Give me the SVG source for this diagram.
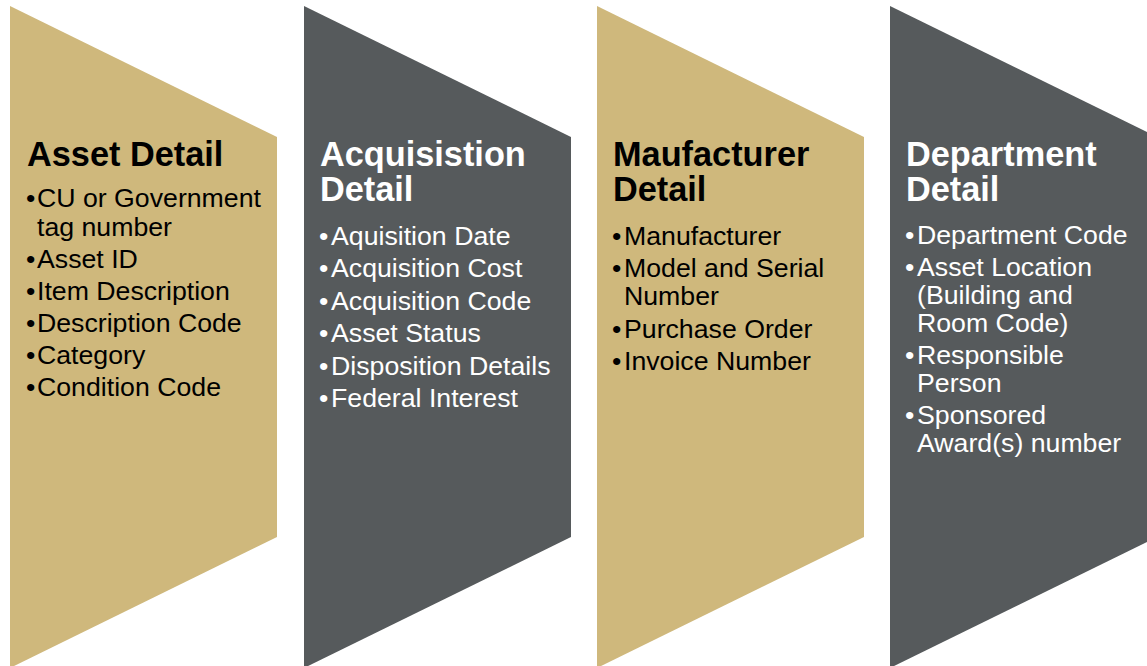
<svg xmlns="http://www.w3.org/2000/svg" width="1147" height="666" viewBox="0 0 1147 666">
<style>
.gold{fill:#CFB87C}
.gray{fill:#565A5C}
text{font-family:"Liberation Sans",Arial,sans-serif}
.h{font-size:34.3px;font-weight:bold}
.b{font-size:26.7px}
.dk{fill:#000}
.lt{fill:#fff}
</style>
<rect width="1147" height="666" fill="#fff"/>
<g id="node-asset">
<polygon class="gold" points="10,6 277,137 277,537 10,668"/>
<g class="dk">
<text class="h" x="27" y="166">Asset Detail</text>
<text class="b" x="26" y="207">•</text><text class="b" x="37" y="207">CU or Government</text>
<text class="b" x="37" y="236">tag number</text>
<text class="b" x="26" y="268">•</text><text class="b" x="37" y="268">Asset ID</text>
<text class="b" x="26" y="300">•</text><text class="b" x="37" y="300">Item Description</text>
<text class="b" x="26" y="332">•</text><text class="b" x="37" y="332">Description Code</text>
<text class="b" x="26" y="364">•</text><text class="b" x="37" y="364">Category</text>
<text class="b" x="26" y="396">•</text><text class="b" x="37" y="396">Condition Code</text>
</g>
</g>
<g id="node-acquisition">
<polygon class="gray" points="304,6 571,137 571,537 304,668"/>
<g class="lt">
<text class="h" x="320" y="166">Acquisistion</text>
<text class="h" x="320" y="201">Detail</text>
<text class="b" x="319" y="245">•</text><text class="b" x="331" y="245">Aquisition Date</text>
<text class="b" x="319" y="277">•</text><text class="b" x="331" y="277">Acquisition Cost</text>
<text class="b" x="319" y="310">•</text><text class="b" x="331" y="310">Acquisition Code</text>
<text class="b" x="319" y="342">•</text><text class="b" x="331" y="342">Asset Status</text>
<text class="b" x="319" y="375">•</text><text class="b" x="331" y="375">Disposition Details</text>
<text class="b" x="319" y="407">•</text><text class="b" x="331" y="407">Federal Interest</text>
</g>
</g>
<g id="node-manufacturer">
<polygon class="gold" points="597,6 864,137 864,537 597,668"/>
<g class="dk">
<text class="h" x="613" y="166">Maufacturer</text>
<text class="h" x="613" y="201">Detail</text>
<text class="b" x="612" y="245">•</text><text class="b" x="624" y="245">Manufacturer</text>
<text class="b" x="612" y="277">•</text><text class="b" x="624" y="277">Model and Serial</text>
<text class="b" x="624" y="305">Number</text>
<text class="b" x="612" y="338">•</text><text class="b" x="624" y="338">Purchase Order</text>
<text class="b" x="612" y="370">•</text><text class="b" x="624" y="370">Invoice Number</text>
</g>
</g>
<g id="node-department">
<polygon class="gray" points="890,6 1157,137 1157,537 890,668"/>
<g class="lt">
<text class="h" x="906" y="166">Department</text>
<text class="h" x="906" y="201">Detail</text>
<text class="b" x="905" y="244">•</text><text class="b" x="917" y="244">Department Code</text>
<text class="b" x="905" y="276">•</text><text class="b" x="917" y="276">Asset Location</text>
<text class="b" x="917" y="304">(Building and</text>
<text class="b" x="917" y="332">Room Code)</text>
<text class="b" x="905" y="364">•</text><text class="b" x="917" y="364">Responsible</text>
<text class="b" x="917" y="392">Person</text>
<text class="b" x="905" y="424">•</text><text class="b" x="917" y="424">Sponsored</text>
<text class="b" x="917" y="452">Award(s) number</text>
</g>
</g>
<g id="connectors"></g>
</svg>
